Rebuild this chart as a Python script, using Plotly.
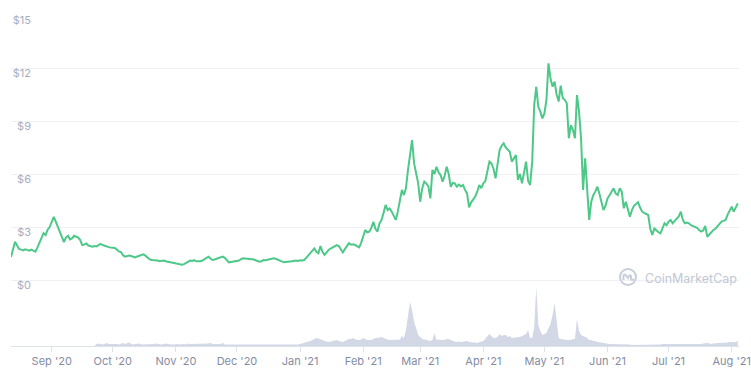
import pandas as pd
import plotly.graph_objects as go

start_date = "2020-08-12"

price = [
    1.30, 1.80, 2.17, 1.95, 1.75, 1.72, 1.68, 1.74, 1.70, 1.66,
    1.72, 1.65, 1.60, 1.85, 2.10, 2.30, 2.65, 2.55, 2.85, 3.00,
    3.25, 3.57, 3.30, 3.00, 2.70, 2.45, 2.15, 2.40, 2.50, 2.30,
    2.35, 2.50, 2.45, 2.40, 2.26, 1.98, 2.00, 2.07, 1.95, 1.90,
    1.88, 1.92, 1.90, 1.97, 2.04, 1.98, 1.93, 1.90, 1.86, 1.84,
    1.82, 1.81, 1.72, 1.62, 1.58, 1.40, 1.32, 1.36, 1.38, 1.36,
    1.30, 1.28, 1.33, 1.38, 1.42, 1.45, 1.38, 1.25, 1.18, 1.13,
    1.12, 1.15, 1.10, 1.06, 1.08, 1.10, 1.06, 1.04, 1.02, 0.98,
    0.96, 0.94, 0.92, 0.88, 0.86, 0.90, 0.98, 1.05, 1.10, 1.08,
    1.12, 1.06, 1.04, 1.06, 1.10, 1.18, 1.26, 1.32, 1.22, 1.13,
    1.16, 1.20, 1.24, 1.28, 1.32, 1.26, 1.12, 1.00, 1.02, 1.04,
    1.03, 1.04, 1.10, 1.18, 1.23, 1.22, 1.20, 1.16, 1.18, 1.17,
    1.12, 1.08, 1.04, 1.06, 1.13, 1.12, 1.15, 1.18, 1.20, 1.23,
    1.20, 1.15, 1.10, 1.05, 1.00, 1.02, 1.05, 1.04, 1.06, 1.09,
    1.10, 1.08, 1.12, 1.10, 1.13, 1.25, 1.40, 1.51, 1.65, 1.79,
    1.60, 1.51, 1.92, 1.60, 1.42, 1.58, 1.70, 1.78, 1.85, 1.90,
    1.98, 1.92, 1.70, 1.56, 1.75, 1.95, 2.08, 2.00, 2.02, 1.98,
    1.92, 1.85, 2.10, 2.50, 2.83, 2.70, 2.74, 2.95, 3.30, 2.90,
    2.74, 3.20, 3.40, 3.80, 4.25, 3.96, 4.05, 3.87, 3.60, 3.40,
    3.87, 4.40, 5.10, 4.81, 5.20, 6.23, 7.26, 7.92, 6.60, 6.00,
    5.47, 4.43, 5.20, 5.57, 5.47, 5.30, 4.62, 6.23, 6.00, 6.41,
    6.10, 5.94, 5.57, 5.90, 6.41, 6.00, 5.28, 5.50, 5.47, 5.28,
    5.40, 5.30, 5.38, 5.10, 4.90, 4.11, 4.40, 4.55, 4.72, 5.00,
    5.38, 5.20, 5.47, 5.60, 6.20, 6.70, 6.60, 6.30, 5.75, 6.60,
    7.36, 7.60, 7.74, 7.50, 7.40, 7.26, 6.70, 6.90, 7.07, 5.66,
    6.00, 5.47, 6.10, 6.70, 5.60, 5.38, 6.70, 9.90, 10.94, 9.80,
    9.53, 9.15, 9.43, 10.19, 12.26, 11.40, 10.94, 11.23, 10.50, 10.10,
    11.00, 10.30, 10.20, 10.00, 8.02, 8.77, 8.50, 8.02, 10.47, 9.53,
    8.02, 5.10, 6.89, 5.00, 3.40, 4.43, 4.80, 5.00, 5.28, 4.90,
    4.43, 3.96, 4.20, 4.62, 4.80, 5.00, 5.19, 4.90, 4.81, 5.19,
    5.00, 4.06, 4.43, 4.00, 3.58, 3.96, 4.20, 4.30, 4.40, 4.10,
    3.87, 3.80, 3.75, 3.68, 2.90, 2.55, 2.92, 2.80, 2.70, 2.64,
    2.90, 3.21, 3.10, 3.30, 3.40, 3.21, 3.35, 3.49, 3.60, 3.87,
    3.40, 3.21, 3.25, 3.21, 3.10, 3.05, 3.02, 2.95, 2.83, 2.74,
    2.80, 3.06, 2.45, 2.60, 2.75, 2.83, 2.90, 3.02, 3.15, 3.30,
    3.35, 3.40, 3.70, 3.95, 4.15, 3.87, 4.10, 4.34,
]

# 24h volume, millions USD
volume = [0] * 42 + [
    20, 25, 20, 15, 20, 30, 20, 20,
    25, 20, 20, 15, 20, 30, 20, 25, 35, 20,
    15, 20, 20, 25, 15, 15, 20, 20, 15, 20,
    20, 25, 20, 15, 15, 20, 25, 20, 15, 15,
    15, 20, 20, 15, 20, 20, 15, 25, 20, 20,
    20, 25, 20, 20, 25, 20, 20, 25, 30, 20,
    20, 20, 15, 20, 30, 15, 15, 15, 10, 10,
    10, 10, 15, 10, 10, 10, 15, 10, 10, 10,
    10, 10, 10, 15, 10, 10, 10, 15, 10, 10,
    10, 10, 10, 10, 15, 10, 10, 10, 10, 10,
    10, 15, 20, 25, 30, 40, 40, 50, 60, 70,
    80, 75, 70, 60, 50, 45, 40, 45, 50, 60,
    60, 50, 45, 40, 50, 60, 70, 70, 80, 70,
    60, 60, 65, 80, 70, 60, 60, 60, 70, 80,
    80, 85, 90, 80, 70, 65, 60, 60, 65, 60,
    60, 65, 100, 80, 160, 300, 440, 360, 240, 180,
    110, 90, 70, 65, 60, 55, 50, 60, 130, 60,
    65, 60, 60, 60, 70, 70, 60, 50, 45, 40,
    45, 40, 45, 50, 50, 40, 40, 35, 35, 30,
    40, 45, 50, 70, 100, 120, 100, 80, 80, 90,
    120, 100, 110, 110, 90, 100, 80, 80, 85, 90,
    90, 100, 110, 120, 160, 80, 80, 190, 590, 210,
    150, 110, 120, 130, 180, 220, 310, 430, 260, 80,
    70, 70, 65, 60, 60, 60, 70, 70, 270, 150,
    110, 100, 90, 80, 60, 60, 50, 50, 40, 40,
    35, 30, 25, 20, 20, 20, 20, 20, 20, 20,
    20, 15, 15, 15, 15, 10, 10, 10, 10, 10,
    10, 10, 10, 10, 10, 10, 10, 15, 15, 15,
    20, 20, 20, 20, 15, 15, 15, 15, 20, 20,
    20, 20, 20, 20, 15, 15, 15, 15, 20, 20,
    25, 30, 30, 25, 20, 25, 30, 30, 30, 30,
    30, 35, 35, 40, 40, 35, 40, 50,
]

price_ticks = [0, 3, 6, 9, 12, 15]
price_tick_labels = ["$0", "$3", "$6", "$9", "$12", "$15"]
month_ticks = pd.date_range("2020-09-01", "2021-08-01", freq="MS")

dates = pd.date_range(start_date, periods=len(price), freq="D")

fig = go.Figure()
fig.add_trace(go.Scatter(
    x=dates, y=volume, yaxis="y2", mode="lines",
    line=dict(width=0, color="#d3d8e6"), fill="tozeroy",
    fillcolor="#d3d8e6", hoverinfo="skip", showlegend=False,
))
fig.add_trace(go.Scatter(
    x=dates, y=price, mode="lines",
    line=dict(width=2, color="#4ec888"), showlegend=False,
))

grid_c = "#eef0f4"
fig.update_layout(
    width=751, height=374,
    margin=dict(l=11, r=12, t=15, b=28),
    paper_bgcolor="white", plot_bgcolor="white",
    font=dict(family="Inter, Roboto, sans-serif", size=11, color="#858ca2"),
    xaxis=dict(
        range=["2020-08-12", "2021-08-04 14:00"],
        tickvals=month_ticks, tickformat="%b '%y",
        showgrid=False, zeroline=False,
        showline=True, linecolor="#dde1ea", linewidth=1,
        ticks="outside", ticklen=5, tickcolor="#dde1ea",
        tickfont=dict(size=11, color="#858ca2"),
        automargin=False,
    ),
    yaxis=dict(
        range=[-3.736, 15],
        tickmode="array", tickvals=price_ticks, ticktext=price_tick_labels,
        showgrid=True, gridcolor=grid_c, gridwidth=1,
        zeroline=False, showline=False, ticks="",
        ticklabelposition="outside", ticklabelstandoff=-21,
        ticklabelshift=5,
        tickfont=dict(size=11, color="#a6aec0"),
        automargin=False,
    ),
    yaxis2=dict(
        overlaying="y", range=[0, 590 * 331 / 59],
        visible=False, showgrid=False,
    ),
    annotations=[dict(
        text="CoinMarketCap", xref="paper", yref="paper",
        x=(643 - 11) / 728, y=(346 - 278) / 331,
        xanchor="left", yanchor="middle", showarrow=False,
        font=dict(size=12.5, color="#c2c8d5", family="Inter, sans-serif"),
    )],
    shapes=[
        dict(type="circle", xref="paper", yref="paper",
             xsizemode="pixel", ysizemode="pixel",
             xanchor=(628 - 11) / 728, yanchor=(346 - 277) / 331,
             x0=-8, x1=8, y0=-8, y1=8,
             line=dict(color="#c9cedb", width=2)),
        dict(type="path", xref="paper", yref="paper",
             xsizemode="pixel", ysizemode="pixel",
             xanchor=(628 - 11) / 728, yanchor=(346 - 277) / 331,
             path="M -4.5,-3 L -4.5,1 Q -3.5,4 -1.5,1 L 0,-1 Q 1.5,3 3,1 L 3,-2 Q 4,-4 6,-2",
             line=dict(color="#c9cedb", width=2)),
    ],
)

fig.write_html(
    "out.html",
    config={"displayModeBar": False},
    post_script="document.body.style.margin='0';document.body.style.padding='0';",
)
